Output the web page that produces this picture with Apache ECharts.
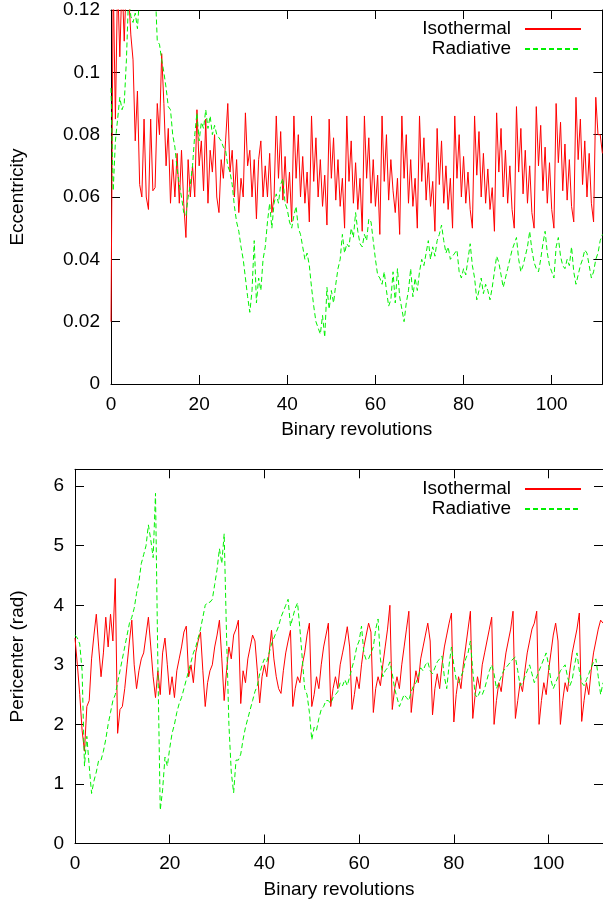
<!DOCTYPE html>
<html>
<head>
<meta charset="utf-8">
<script src="https://cdn.jsdelivr.net/npm/echarts@6/dist/echarts.min.js"></script>
<style>html,body{margin:0;padding:0;background:#fff;}#c{width:603px;height:904px;}</style>
</head>
<body>
<div id="c"></div>
<script>
// Samples every half binary revolution
const STEP = 0.5;
const seriesNames = ['Isothermal', 'Radiative'];
const xTitle = 'Binary revolutions';
const eccTitle = 'Eccentricity';
const periTitle = 'Pericenter (rad)';

// Eccentricity, isothermal
const eccIso = [
 .020,.130,.085,.130,.105,.130,.110,.130,
 .125,.112,.104,.078,.094,.064,.060,.085,
 .060,.056,.085,.062,.063,.090,.080,.106,
 .090,.070,.082,.058,.072,.060,.074,.058,
 .075,.058,.047,.072,.060,.070,.060,.088,
 .070,.078,.062,.085,.058,.075,.068,.080,
 .060,.055,.072,.066,.078,.090,.068,.075,
 .060,.072,.055,.066,.060,.087,.070,.075,
 .060,.072,.053,.072,.078,.060,.070,.060,
 .074,.055,.060,.086,.066,.081,.059,.073,
 .058,.068,.052,.086,.066,.080,.060,.073,
 .058,.068,.052,.086,.065,.079,.060,.072,
 .057,.067,.051,.085,.066,.079,.059,.072,
 .057,.066,.050,.086,.065,.078,.058,.071,
 .056,.066,.049,.086,.066,.079,.058,.072,
 .057,.067,.048,.086,.065,.080,.059,.072,
 .062,.055,.066,.048,.086,.066,.080,.058,
 .072,.057,.066,.050,.086,.065,.079,.059,
 .071,.057,.065,.049,.082,.064,.078,.058,
 .070,.056,.066,.050,.086,.066,.080,.060,
 .073,.058,.068,.056,.050,.086,.067,.081,
 .060,.074,.058,.069,.056,.063,.049,.087,
 .068,.082,.060,.075,.058,.070,.056,.050,
 .089,.068,.082,.061,.075,.058,.070,.055,
 .050,.089,.070,.083,.062,.076,.058,.071,
 .056,.050,.090,.071,.084,.062,.077,.059,
 .072,.057,.052,.092,.072,.085,.064,.078,
 .060,.074,.058,.052,.092,.080,.080,.074
];

// Eccentricity, radiative
const eccRad = [
 .095,.062,.078,.085,.092,.088,.090,.104,
 .125,.118,.116,.119,.114,.125,.135,.135,
 .135,.135,.135,.135,.128,.110,.109,.104,
 .100,.095,.089,.088,.080,.076,.069,.064,
 .060,.055,.054,.060,.064,.070,.080,.087,
 .078,.084,.082,.088,.082,.086,.080,.083,
 .080,.079,.078,.076,.075,.070,.068,.064,
 .057,.052,.049,.044,.040,.034,.028,.023,
 .030,.046,.026,.034,.030,.040,.044,.052,
 .058,.050,.058,.061,.058,.064,.066,.058,
 .056,.052,.050,.054,.057,.050,.048,.044,
 .040,.042,.038,.031,.025,.020,.018,.016,
 .022,.015,.031,.024,.030,.026,.032,.037,
 .040,.048,.042,.045,.044,.050,.047,.055,
 .049,.045,.044,.048,.046,.053,.052,.046,
 .040,.035,.034,.032,.036,.030,.025,.027,
 .036,.026,.037,.028,.024,.020,.026,.030,
 .037,.028,.034,.030,.036,.040,.038,.042,
 .046,.040,.044,.041,.046,.048,.051,.046,
 .042,.044,.040,.041,.042,.043,.036,.034,
 .037,.035,.040,.045,.038,.034,.027,.030,
 .034,.029,.032,.030,.027,.031,.036,.041,
 .039,.035,.031,.034,.037,.040,.043,.045,
 .047,.040,.036,.038,.041,.044,.049,.043,
 .039,.037,.036,.040,.045,.049,.042,.038,
 .036,.034,.044,.047,.041,.038,.037,.040,
 .038,.044,.036,.032,.035,.038,.040,.043,
 .042,.038,.034,.036,.040,.042,.046,.048
];

// Pericenter (rad), isothermal
const periIso = [
 3.45,3.0,2.5,1.9,1.55,2.3,2.4,3.1,
 3.5,3.85,3.3,2.8,3.2,3.8,3.3,3.85,
 3.4,4.45,1.85,2.25,2.3,2.6,3.0,3.4,
 3.75,3.0,2.6,2.9,3.1,3.2,3.5,3.8,
 3.3,2.8,2.45,2.9,2.5,3.2,3.45,3.0,
 2.5,2.8,2.45,2.9,3.1,3.3,3.55,3.65,
 2.8,3.0,2.7,3.2,3.4,3.55,2.9,2.3,
 2.7,2.9,3.0,3.3,3.5,3.75,3.1,2.4,
 2.9,3.3,3.1,3.5,3.6,3.75,2.35,2.9,
 2.7,3.1,3.3,3.5,3.4,2.9,2.36,2.8,
 3.0,2.8,3.2,3.58,3.1,2.8,2.6,2.52,
 2.9,3.2,3.4,3.58,2.3,2.6,2.8,2.7,
 3.0,3.2,3.5,3.7,2.3,2.5,2.8,2.6,
 3.0,3.3,3.5,3.7,2.3,2.6,2.8,2.6,
 3.0,3.2,3.4,3.64,3.3,2.25,2.5,2.8,
 2.6,3.0,3.3,3.5,3.7,3.55,2.2,2.6,
 2.8,2.65,3.0,3.3,3.6,4.0,2.25,2.6,
 2.8,2.6,3.0,3.3,3.6,3.9,2.2,2.6,
 2.9,2.7,3.1,3.3,3.5,3.7,3.4,2.16,
 2.6,2.85,2.6,3.0,3.3,3.5,3.7,3.87,
 2.04,2.5,2.8,2.6,3.0,3.3,3.6,3.9,
 2.1,2.5,2.8,2.6,3.0,3.2,3.4,3.6,
 3.8,2.0,2.4,2.7,2.55,2.9,3.2,3.4,
 3.6,3.9,2.1,2.4,2.7,2.55,2.9,3.2,
 3.4,3.6,3.7,3.9,2.0,2.4,2.7,2.5,
 2.9,3.2,3.5,3.7,3.4,2.0,2.4,2.7,
 2.55,2.9,3.2,3.4,3.6,3.87,2.05,2.4,
 2.7,2.5,2.9,3.2,3.4,3.6,3.75,3.7
];

// Pericenter (rad), radiative
const periRad = [
 3.5,3.45,3.35,2.9,1.3,1.8,1.3,0.84,
 1.05,1.2,1.4,1.4,1.55,1.75,2.0,2.2,
 2.4,2.5,2.7,2.9,3.1,3.3,3.5,3.7,
 3.8,3.95,4.2,4.4,4.7,4.85,5.0,5.35,
 5.1,4.8,5.88,3.0,0.56,0.9,1.45,1.3,
 1.6,1.85,2.0,2.2,2.35,2.45,2.6,2.75,
 2.9,3.05,3.2,3.3,3.45,3.6,3.8,4.0,
 4.05,4.05,4.1,4.35,4.6,4.95,4.7,5.2,
 3.5,2.0,1.2,0.85,1.4,1.4,1.5,1.75,
 1.95,2.1,2.25,2.4,2.55,2.65,2.85,3.0,
 3.1,3.05,3.2,3.35,3.45,3.55,3.65,3.8,
 3.9,4.0,4.1,3.65,3.8,3.95,4.04,3.6,
 3.1,2.6,2.5,2.2,1.74,1.95,1.9,2.1,
 2.25,2.3,2.4,2.4,2.35,2.45,2.5,2.55,
 2.7,2.65,2.75,2.65,2.8,2.95,3.1,3.3,
 3.4,3.65,3.2,3.08,3.1,3.2,3.3,3.6,
 3.77,3.1,2.8,2.9,2.95,3.05,2.85,2.6,
 2.45,2.3,2.4,2.5,2.45,2.4,2.55,2.65,
 2.7,2.8,2.95,2.9,3.0,3.05,2.9,2.85,
 2.95,3.05,3.1,3.15,2.8,2.6,3.0,3.3,
 3.0,2.75,2.7,2.8,2.9,3.1,3.2,3.4,
 2.9,2.5,2.45,2.55,2.5,2.6,2.75,2.9,
 3.0,2.85,2.6,2.7,2.8,2.9,2.95,3.0,
 3.05,3.1,3.13,2.9,2.65,2.7,2.8,2.9,
 3.0,2.85,2.7,2.8,2.9,3.0,3.1,3.2,
 3.0,2.75,2.6,2.7,2.8,2.9,2.95,3.0,
 2.8,2.65,2.75,3.0,3.2,2.9,2.7,2.65,
 2.75,2.85,2.95,3.05,3.1,2.8,2.5,2.7
];

const X_MAX = 111.5;
const ECC_MAX = 0.12, ECC_STEP = 0.02;
const PERI_MAX = 2 * Math.PI, PERI_STEP = 1;
const X_STEP = 20;

const pairs = arr => arr.map((v, i) => [i * STEP, v]);

const FONT = 'Liberation Sans';
const FS = 19;
const RED = '#ff0000', GREEN = '#00f000';
const axisLine = {show: true, onZero: false, lineStyle: {color: '#000', width: 1}};
const tick = {show: true, inside: true, length: 9, lineStyle: {color: '#000', width: 1}};
const label = {color: '#000', fontFamily: FONT, fontSize: FS, margin: 11};
const nameStyle = {color: '#000', fontFamily: FONT, fontSize: FS};

function xAxes(g, gap) {
  return [
    {gridIndex: g, type: 'value', min: 0, max: X_MAX, interval: X_STEP, position: 'bottom',
     axisLine, axisTick: tick, splitLine: {show: false},
     axisLabel: Object.assign({showMaxLabel: false}, label),
     name: xTitle, nameLocation: 'middle', nameGap: gap, nameTextStyle: nameStyle},
    {gridIndex: g, type: 'value', min: 0, max: X_MAX, interval: X_STEP, position: 'top',
     axisLine, axisTick: tick, splitLine: {show: false}, axisLabel: {show: false}}
  ];
}
function yAxes(g, max, step, name, gap, fmt) {
  return [
    {gridIndex: g, type: 'value', min: 0, max: max, interval: step, position: 'left',
     axisLine, axisTick: tick, splitLine: {show: false},
     axisLabel: Object.assign({formatter: fmt, showMaxLabel: max / step === Math.round(max / step)}, label),
     name: name, nameLocation: 'middle', nameGap: gap, nameTextStyle: nameStyle},
    {gridIndex: g, type: 'value', min: 0, max: max, interval: step, position: 'right',
     axisLine, axisTick: tick, splitLine: {show: false}, axisLabel: {show: false}}
  ];
}
function line(name, data, xi, yi, color, dashed) {
  return {
    name, type: 'line', xAxisIndex: xi, yAxisIndex: yi, data: pairs(data),
    symbol: 'none', showSymbol: false, silent: true, animation: false,
    emphasis: {disabled: true},
    itemStyle: {color},
    lineStyle: {color, width: 1, type: dashed ? [5, 3] : 'solid'}
  };
}
function legend(top) {
  return {
    data: seriesNames, orient: 'vertical', align: 'right', right: 21, top: top,
    padding: 0, itemGap: 0, itemWidth: 56, itemHeight: 14, selectedMode: false,
    itemStyle: {opacity: 0, borderWidth: 0},
    textStyle: {color: '#000', fontFamily: FONT, fontSize: FS, lineHeight: 20, padding: [0, 9, 0, 0]}
  };
}

const chart = echarts.init(document.getElementById('c'), null, {renderer: 'canvas'});
chart.setOption({
  animation: false,
  backgroundColor: '#fff',
  grid: [
    {left: 109, top: 10, width: 493.4, height: 374},
    {left: 73, top: 469.3, width: 530.3, height: 374.2}
  ],
  legend: [legend(19), legend(479)],
  xAxis: xAxes(0, 36).concat(xAxes(1, 37)),
  yAxis: yAxes(0, ECC_MAX, ECC_STEP, eccTitle, 84, v => String(parseFloat(v.toFixed(2))))
    .concat(yAxes(1, PERI_MAX, PERI_STEP, periTitle, 48, v => String(Math.round(v)))),
  series: [
    line(seriesNames[0], eccIso, 0, 0, RED, false),
    line(seriesNames[1], eccRad, 0, 0, GREEN, true),
    line(seriesNames[0], periIso, 2, 2, RED, false),
    line(seriesNames[1], periRad, 2, 2, GREEN, true)
  ]
});
</script>
</body>
</html>
